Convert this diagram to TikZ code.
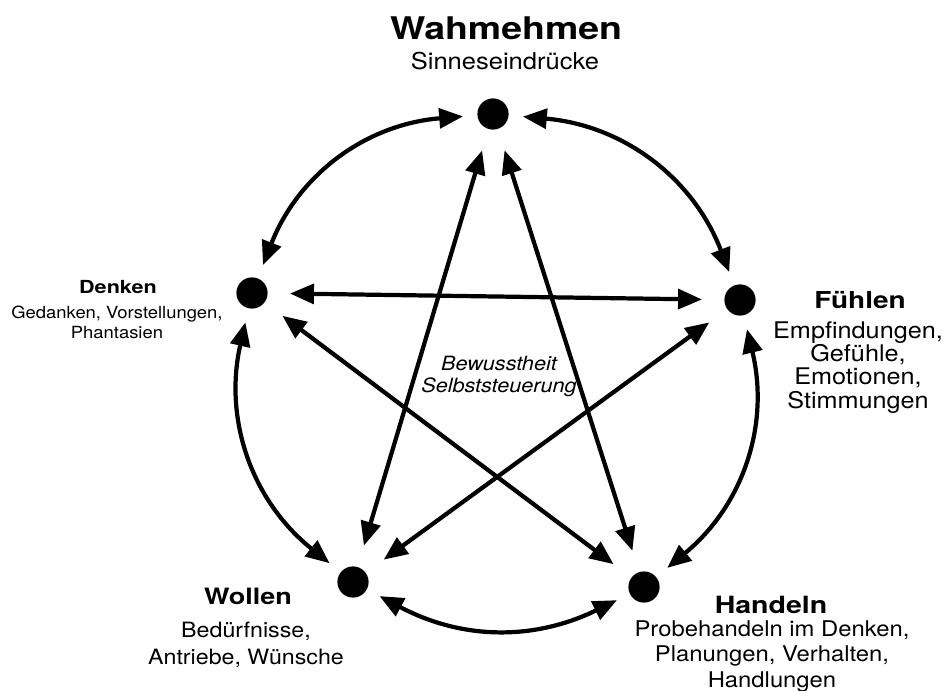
\documentclass[tikz,border=0pt]{standalone}
\usepackage{fontspec}
\setmainfont{TeX Gyre Heros}[FakeStretch=1.1]
\newfontfamily\headfont{TeX Gyre Heros}[FakeStretch=1.2]
\usetikzlibrary{arrows.meta, positioning}
\tikzset{
  dot/.style   = {circle, fill=black, minimum size=0.78cm, inner sep=0pt,
                  outer sep=0.36cm},
  link/.style  = {{Triangle[length=17pt, width=14pt]}-{Triangle[length=17pt, width=14pt]},
                  line width=3pt},
  star/.style  = {link, shorten <=0.2cm, shorten >=0.2cm},
  head/.style  = {font=\headfont\bfseries\fontsize{16.9}{18}\selectfont, inner sep=0pt,
                  anchor=base},
  desc/.style  = {font=\fontsize{16}{17}\selectfont, align=center, inner sep=0pt,
                  anchor=base},
  note/.style  = {font=\fontsize{14}{15.6}\selectfont\itshape, align=center,
                  inner sep=0pt, anchor=base},
}

\begin{document}
\begin{tikzpicture}[x=0.025cm, y=-0.025cm]

% ---- Frame (pixel grid of the page) ----------------------------------------
\useasboundingbox (0,0) rectangle (943,691);

% ---- The five functions -----------------------------------------------------
\node[dot] (wahr)   at (493,114) {};
\node[dot] (denk)   at (252,293) {};
\node[dot] (fuehl)  at (740,300) {};
\node[dot] (woll)   at (353,582) {};
\node[dot] (handel) at (644,587) {};

% ---- Labels (base anchor = baseline of the last line) -----------------------
\node[head, font=\headfont\bfseries\fontsize{22.2}{24}\selectfont] (wahrT) at (506,39)
  {Wahmehmen};
\node[desc, font=\fontsize{16.5}{18}\selectfont] (wahrD) at (505,69) {Sinneseindrücke};

\node[head, font=\headfont\bfseries\fontsize{12.8}{14}\selectfont] (denkT) at (118,293)
  {Denken};
\node[desc, font=\fontsize{11.9}{14.2}\selectfont] (denkD) at (117,338)
  {Gedanken, Vorstellungen,\\Phantasien};

\node[head, font=\headfont\bfseries\fontsize{16.6}{18}\selectfont] (fuehlT) at (860,308)
  {Fühlen};
\node[desc, font=\fontsize{16.3}{16.4}\selectfont] (fuehlD) at (858,408)
  {Empfindungen,\\Gefühle,\\Emotionen,\\Stimmungen};

\node[head, font=\headfont\bfseries\fontsize{16}{18}\selectfont] (wollT) at (248,604)
  {Wollen};
\node[desc, font=\fontsize{15}{19}\selectfont] (wollD) at (246,664)
  {Bedürfnisse,\\Antriebe, Wünsche};

\node[head] (handelT) at (771,613) {Handeln};
\node[desc, font=\fontsize{15.4}{17.8}\selectfont] (handelD) at (772,687)
  {Probehandeln im Denken,\\Planungen, Verhalten,\\Handlungen};

\node[note] (mitte) at (499,392) {Bewusstheit\\Selbststeuerung};

% ---- Outer ring -------------------------------------------------------------
\draw[link] (wahr)   to[bend left=32] (fuehl);
\draw[link] (fuehl)  to[bend left=32] (handel);
\draw[link] (handel) to[bend left=27] (woll);
\draw[link] (woll)   to[bend left=32] (denk);
\draw[link] (denk)   to[bend left=32] (wahr);

% ---- Inner star -------------------------------------------------------------
\draw[star] (wahr) -- (woll);
\draw[star] (wahr) -- (handel);
\draw[star] (denk) -- (fuehl);
\draw[star] (denk) -- (handel);
\draw[star] (fuehl) -- (woll);

\end{tikzpicture}
\end{document}
